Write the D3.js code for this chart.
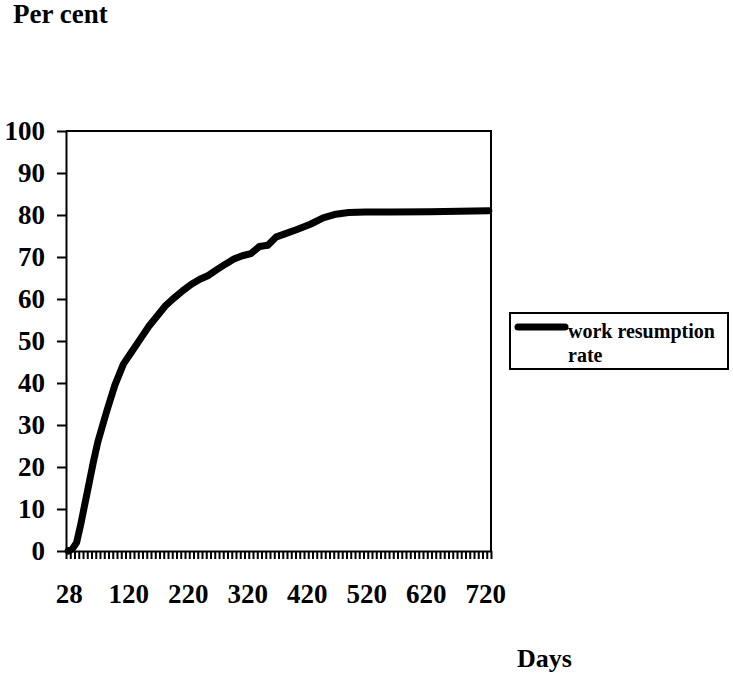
<!DOCTYPE html>
<html>
<head>
<meta charset="utf-8">
<script src="https://cdn.jsdelivr.net/npm/d3@7"></script>
<style>
  body { margin: 0; background: #fff; }
  svg text { font-family: "Liberation Serif", "Times New Roman", serif; font-weight: bold; fill: #000; }
</style>
</head>
<body>
<svg id="chart" width="733" height="680"></svg>
<script>
// weekly categories on the x axis, labelled every 14th week
var categoryCount = 100;
var xLabelIndex = [0, 14, 28, 42, 56, 70, 84, 98];
var xLabels = ["28", "120", "220", "320", "420", "520", "620", "720"];
var yTicks = [0, 10, 20, 30, 40, 50, 60, 70, 80, 90, 100];

// readings of the curve: category index and per cent
var weeks = [0, 1, 2, 3, 4, 5, 6, 7, 9, 11, 13, 15, 17, 19, 21, 23, 25, 27, 29, 31,
             33, 35, 37, 39, 41, 43, 45, 47, 49, 51, 54, 57, 60, 63, 66, 70, 76, 85, 92, 99];
var rates = [0, 0.5, 2, 6.5, 11.5, 16.5, 21.5, 26, 33, 39.5, 44.5, 47.5, 50.5, 53.5, 56, 58.5, 60.3, 62, 63.5, 64.7,
             65.6, 67, 68.3, 69.5, 70.3, 70.8, 72.5, 72.8, 74.8, 75.5, 76.6, 77.8, 79.3, 80.2, 80.6, 80.7, 80.7, 80.8, 80.9, 81];

var seriesName = ["work resumption", "rate"];

(function() {
    var svg = d3.select("#chart");
    var plotLeft = 66, plotRight = 491, plotTop = 131, plotBottom = 551;

    var x = d3.scaleLinear().domain([-0.5, categoryCount - 0.5]).range([plotLeft, plotRight]);
    var y = d3.scaleLinear().domain([0, 100]).range([plotBottom, plotTop]);

    // plot area frame (top and right)
    svg.append("path")
        .attr("d", "M" + plotLeft + "," + plotTop + "H" + plotRight + "V" + plotBottom)
        .attr("fill", "none").attr("stroke", "#000").attr("stroke-width", 2);

    // y axis
    var yAxis = svg.append("g")
        .attr("transform", "translate(" + plotLeft + ",0)")
        .call(d3.axisLeft(y).tickValues(yTicks).tickSize(9).tickSizeOuter(0).tickPadding(12));
    yAxis.selectAll("path, line").attr("stroke", "#000").attr("stroke-width", 2);
    yAxis.selectAll("text").style("font-size", "27px").attr("font-family", null);

    // x axis: a tick between every category
    var xAxis = svg.append("g")
        .attr("transform", "translate(0," + plotBottom + ")")
        .call(d3.axisBottom(x).tickValues(d3.range(-0.5, categoryCount, 1)).tickSize(8).tickSizeOuter(0).tickFormat(""));
    xAxis.select(".domain").attr("stroke", "#000").attr("stroke-width", 2);
    xAxis.selectAll(".tick line").attr("stroke", "#000").attr("stroke-width", 2);

    svg.append("g").selectAll("text")
        .data(xLabels)
      .enter().append("text")
        .attr("x", function(d, i) { return x(xLabelIndex[i]) + 1; })
        .attr("y", plotBottom + 52)
        .attr("text-anchor", "middle")
        .style("font-size", "27px")
        .text(function(d) { return d; });

    // the series
    var line = d3.line()
        .x(function(d, i) { return x(weeks[i]); })
        .y(function(d) { return y(d); });

    svg.append("path")
        .datum(rates)
        .attr("d", line)
        .attr("fill", "none")
        .attr("stroke", "#000")
        .attr("stroke-width", 7)
        .attr("stroke-linejoin", "round")
        .attr("stroke-linecap", "round");

    // axis titles
    svg.append("text").attr("x", 13).attr("y", 23).style("font-size", "27px").text("Per cent");
    svg.append("text").attr("x", 517).attr("y", 667).style("font-size", "26px").text("Days");

    // legend
    var legend = svg.append("g").attr("transform", "translate(510,313)");
    legend.append("rect")
        .attr("width", 218).attr("height", 56)
        .attr("fill", "#fff").attr("stroke", "#000").attr("stroke-width", 2);
    legend.append("line")
        .attr("x1", 8).attr("x2", 55).attr("y1", 14).attr("y2", 14)
        .attr("stroke", "#000").attr("stroke-width", 7).attr("stroke-linecap", "round");
    legend.selectAll("text.label")
        .data(seriesName)
      .enter().append("text")
        .attr("class", "label")
        .attr("x", 58)
        .attr("y", function(d, i) { return 25 + i * 24; })
        .style("font-size", "20px")
        .text(function(d) { return d; });
})();
</script>
</body>
</html>
